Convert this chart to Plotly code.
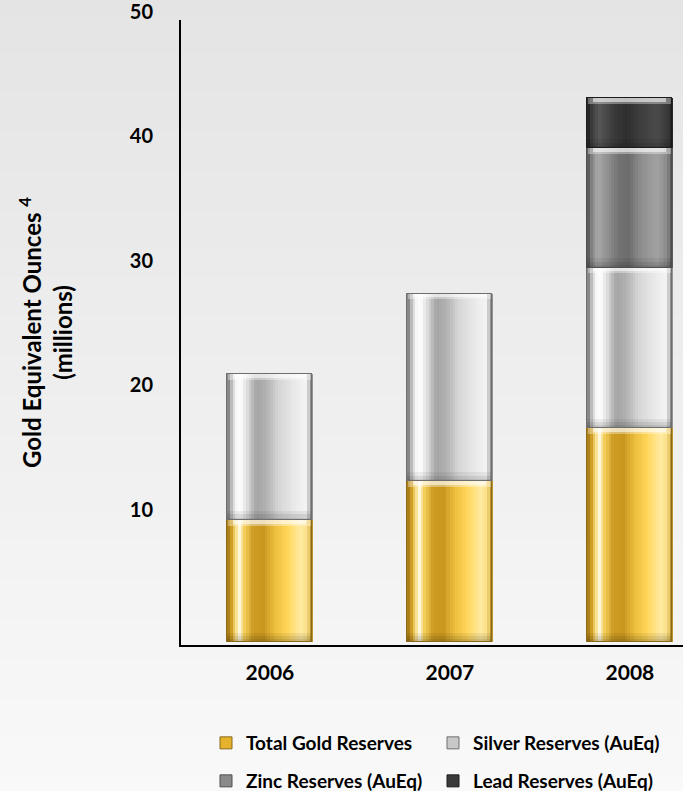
import numpy as np
import plotly.graph_objects as go

# ---- data -------------------------------------------------------------
years = ["2006", "2007", "2008"]
gold_reserves = [9.8, 12.9, 17.2]
silver_reserves = [11.7, 15.1, 12.9]
zinc_reserves = [0.0, 0.0, 9.6]
lead_reserves = [0.0, 0.0, 4.0]
series_names = [
    "Total Gold Reserves",
    "Silver Reserves (AuEq)",
    "Zinc Reserves (AuEq)",
    "Lead Reserves (AuEq)",
]
y_tick_values = [10, 20, 30, 40, 50]

# ---- styling ----------------------------------------------------------
FONT = "Lato"
BAR_W = 0.472
N_STRIPES = 32

# horizontal colour profiles (position across bar, colour) giving a glossy tube look
profiles = [
    [(0.0, "#9c7414"), (0.04, "#c9961e"), (0.09, "#f6d36a"), (0.14, "#fff8dc"),
     (0.20, "#f3cf5a"), (0.30, "#cf9d24"), (0.42, "#c8961e"), (0.55, "#ebbd3c"),
     (0.70, "#ffd659"), (0.86, "#ffe99e"), (0.94, "#fbe08a"), (0.98, "#c9a234"),
     (1.0, "#8f6c12")],
    [(0.0, "#6c6c6c"), (0.04, "#b4b4b4"), (0.10, "#f4f4f4"), (0.16, "#ffffff"),
     (0.24, "#d8d8d8"), (0.34, "#a4a4a4"), (0.46, "#b2b2b2"), (0.60, "#d6d6d6"),
     (0.78, "#e8e8e8"), (0.92, "#f4f4f4"), (0.97, "#b8b8b8"), (1.0, "#6a6a6a")],
    [(0.0, "#4a4a4a"), (0.04, "#7c7c7c"), (0.12, "#a8a8a8"), (0.22, "#949494"),
     (0.36, "#747474"), (0.48, "#6c6c6c"), (0.62, "#8c8c8c"), (0.82, "#a2a2a2"),
     (0.94, "#8a8a8a"), (1.0, "#4a4a4a")],
    [(0.0, "#1e1e1e"), (0.05, "#3c3c3c"), (0.14, "#565656"), (0.30, "#3c3c3c"),
     (0.45, "#2e2e2e"), (0.62, "#3e3e3e"), (0.82, "#4a4a4a"), (0.95, "#383838"),
     (1.0, "#1e1e1e")],
]
mid_colors = ["#e6b22e", "#c8c8c8", "#8a8a8a", "#3a3a3a"]
edge_colors = ["#8a6a1a", "#6e6e6e", "#4e4e4e", "#1c1c1c"]


def hex_rgb(h):
    h = h.lstrip("#")
    return np.array([int(h[i:i + 2], 16) for i in (0, 2, 4)], dtype=float)


def profile_color(stops, t):
    pos = [p for p, _ in stops]
    cols = [hex_rgb(c) for _, c in stops]
    for j in range(len(pos) - 1):
        if pos[j] <= t <= pos[j + 1]:
            f = (t - pos[j]) / (pos[j + 1] - pos[j])
            c = cols[j] * (1 - f) + cols[j + 1] * f
            return "rgb(%d,%d,%d)" % tuple(np.round(c))
    c = cols[-1]
    return "rgb(%d,%d,%d)" % tuple(np.round(c))


series_values = [gold_reserves, silver_reserves, zinc_reserves, lead_reserves]
x_pos = list(range(len(years)))

fig = go.Figure()

# ---- page background: soft vertical gradient ---------------------------
FIG_W, FIG_H = 683, 791
M_L, M_R, M_T, M_B = 181, 0, 20, 146
plot_w = FIG_W - M_L - M_R
plot_h = FIG_H - M_T - M_B
top_rgb, bot_rgb = hex_rgb("#e4e4e4"), hex_rgb("#f9f9f9")
n_bands = 60
for i in range(n_bands):
    py0 = FIG_H * i / n_bands
    py1 = FIG_H * (i + 1) / n_bands + 1
    f = (i + 0.5) / n_bands
    c = top_rgb * (1 - f) + bot_rgb * f
    fig.add_shape(
        type="rect", xref="paper", yref="paper", layer="below",
        x0=-M_L / plot_w, x1=1.0 + M_R / plot_w + 0.01,
        y0=(FIG_H - M_B - py1) / plot_h, y1=(FIG_H - M_B - py0) / plot_h,
        fillcolor="rgb(%d,%d,%d)" % tuple(np.round(c)), line_width=0,
    )

# ---- stacked glossy bars -----------------------------------------------
running = [0.0] * len(years)
for k, (name, vals) in enumerate(zip(series_names, series_values)):
    idx = [i for i, v in enumerate(vals) if v > 0]
    xs = [x_pos[i] for i in idx]
    heights = [vals[i] for i in idx]
    bases = [running[i] for i in idx]
    tops = [b + h for b, h in zip(bases, heights)]
    legend_id = "legend" if k < 2 else "legend2"

    # solid body (also the legend entry)
    fig.add_trace(go.Bar(
        x=xs, y=heights, base=bases, width=BAR_W, name=name,
        marker=dict(color=mid_colors[k], line=dict(color=edge_colors[k], width=1)),
        legend=legend_id, hoverinfo="skip",
    ))

    # vertical stripes forming the cylindrical shading
    sw = BAR_W / N_STRIPES
    for s in range(N_STRIPES):
        t = (s + 0.5) / N_STRIPES
        fig.add_trace(go.Bar(
            x=xs, y=heights, base=bases, width=sw * 1.15,
            offset=-BAR_W / 2 + s * sw,
            marker=dict(color=profile_color(profiles[k], t), line_width=0),
            showlegend=False, hoverinfo="skip",
        ))

    # darker shading at the foot of each segment
    for frac, alpha in [(0.75, 0.06), (0.45, 0.08), (0.2, 0.08)]:
        fig.add_trace(go.Bar(
            x=xs, y=[frac] * len(xs), base=bases, width=BAR_W,
            marker=dict(color="rgba(0,0,0,%.2f)" % alpha, line_width=0),
            showlegend=False, hoverinfo="skip",
        ))

    # bright bevel along the top of each segment
    for wf, hgt, alpha in [(0.98, 0.45, 0.35), (0.86, 0.3, 0.55)]:
        fig.add_trace(go.Bar(
            x=xs, y=[hgt] * len(xs), base=[t_ - hgt for t_ in tops],
            width=BAR_W * wf,
            marker=dict(color="rgba(255,255,255,%.2f)" % alpha, line_width=0),
            showlegend=False, hoverinfo="skip",
        ))

    # crisp outline
    fig.add_trace(go.Bar(
        x=xs, y=heights, base=bases, width=BAR_W,
        marker=dict(color="rgba(0,0,0,0)", line=dict(color=edge_colors[k], width=1)),
        showlegend=False, hoverinfo="skip",
    ))

    for i in idx:
        running[i] += vals[i]

# ---- layout -------------------------------------------------------------
legend_common = dict(
    orientation="h", xanchor="left", yanchor="middle",
    bgcolor="rgba(0,0,0,0)", entrywidth=182, entrywidthmode="pixels",
    font=dict(family=FONT, size=19, color="#000000", weight="bold"),
    itemwidth=30, traceorder="normal",
)

fig.update_layout(
    width=FIG_W, height=FIG_H,
    margin=dict(l=M_L, r=M_R, t=M_T, b=M_B, autoexpand=False),
    paper_bgcolor="#eeeeee", plot_bgcolor="rgba(0,0,0,0)",
    barmode="overlay", bargap=0,
    font=dict(family=FONT, color="#000000", weight="bold"),
    xaxis=dict(
        range=[-0.494, 2.295], tickvals=x_pos, ticktext=years,
        showline=True, linecolor="#000000", linewidth=2,
        showgrid=False, zeroline=False, ticks="",
        tickfont=dict(family=FONT, size=21, color="#000000", weight="bold"),
        ticklabelstandoff=8, fixedrange=True,
    ),
    yaxis=dict(
        range=[-0.25, 50], tickvals=y_tick_values,
        showline=True, linecolor="#000000", linewidth=2,
        showgrid=False, zeroline=False, ticks="",
        tickfont=dict(family=FONT, size=20, color="#000000", weight="bold"),
        ticklabelstandoff=22, ticklabelshift=-8, ticklabeloverflow="allow",
        title=dict(
            text="Gold Equivalent Ounces <sup>4</sup><br>(millions)",
            font=dict(family=FONT, size=24, color="#000000", weight="bold"),
            standoff=50,
        ),
        fixedrange=True,
    ),
    legend=dict(x=(206 - M_L) / plot_w, y=(FIG_H - M_B - 743) / plot_h, **legend_common),
    legend2=dict(x=(206 - M_L) / plot_w, y=(FIG_H - M_B - 781) / plot_h, **legend_common),
    showlegend=True,
)

fig.write_html("out.html")
